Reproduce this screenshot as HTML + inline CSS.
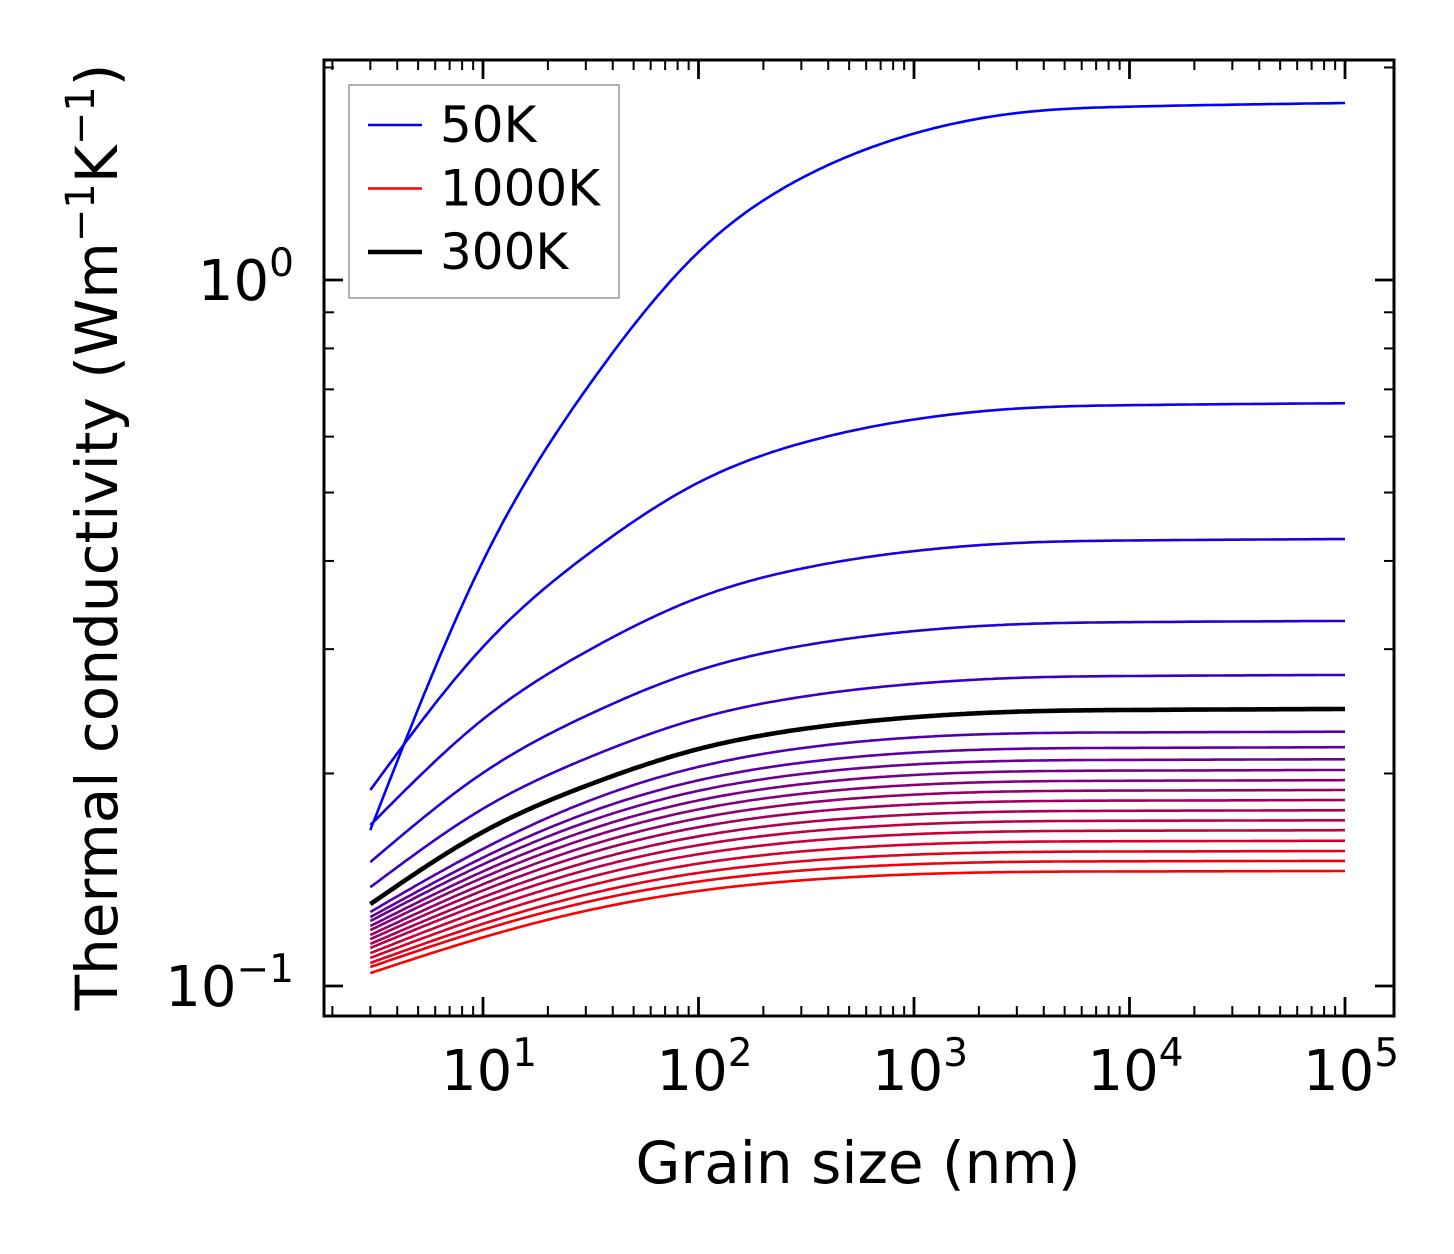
<!DOCTYPE html>
<html><head><meta charset="utf-8"><style>
html,body{margin:0;padding:0;background:#fff;}
svg{display:block;font-family:"DejaVu Sans","Liberation Sans",sans-serif;}
</style></head><body>
<svg id="chart" width="1454" height="1254" viewBox="0 0 1454 1254" xmlns="http://www.w3.org/2000/svg">
<g id="plot"></g>
</svg>
<script>
// Data
const grainSizes = [3, 10, 31.6, 100, 316, 1000, 3162, 10000, 100000];
const temperatures = [50,100,150,200,250,300,350,400,450,500,550,600,650,700,750,800,850,900,950,1000];
// bulk (1e5 nm) conductivity per temperature
const kBulk = [1.781,0.669,0.4296,0.3289,0.2758,0.2468,0.2292,0.2179,0.2095,0.2023,0.1957,0.1895,0.1834,0.1774,0.1717,0.1662,0.1606,0.1553,0.1504,0.1455];
// conductivity at 3 nm grain size per temperature
const kSmall = [0.1663,0.1895,0.169,0.1498,0.138,0.1306,0.1273,0.1252,0.1236,0.1216,0.1200,0.1181,0.1165,0.1147,0.1132,0.1113,0.1096,0.1078,0.1064,0.1043];
// fraction of log-reduction remaining vs grain size (top curves / high-T curves)
const profileLowT = [1,0.63,0.385,0.205,0.1,0.042,0.013,0.005,0];
const profileHighT = [1,0.65,0.38,0.195,0.088,0.032,0.009,0.004,0];
const xTickLabels = ["10","10","10","10","10"];
const xTickExps = [1,2,3,4,5];
const yTickExps = [0,-1];

const NS="http://www.w3.org/2000/svg";
const L=324,R=1394,T=60,B=1016;
const xPerDec=215.5, x10=483;
const yPerDec=706, y1=280;
function X(v){return x10+xPerDec*(Math.log10(v)-1);}
function Y(v){return y1-yPerDec*Math.log10(v);}
const g=document.getElementById('plot');
function el(tag,attrs,parent){const e=document.createElementNS(NS,tag);for(const k in attrs)e.setAttribute(k,attrs[k]);(parent||g).appendChild(e);return e;}

const series=[];
for(let i=0;i<kBulk.length;i++){
  const prof=i<6?profileLowT:profileHighT;
  const lb=Math.log10(kBulk[i]), ls=Math.log10(kSmall[i]);
  series.push(grainSizes.map((s,j)=>Math.pow(10, lb+(ls-lb)*prof[j])));
}
// natural cubic spline in log-log space
function pathFor(vals){
  const xs=grainSizes.map(s=>Math.log10(s)), ys=vals.map(v=>Math.log10(v));
  const n=xs.length, h=[], al=[], l=[1], mu=[0], z=[0], c=new Array(n).fill(0), b=[], d=[];
  for(let i=0;i<n-1;i++)h.push(xs[i+1]-xs[i]);
  for(let i=1;i<n-1;i++)al[i]=3/h[i]*(ys[i+1]-ys[i])-3/h[i-1]*(ys[i]-ys[i-1]);
  for(let i=1;i<n-1;i++){l[i]=2*(xs[i+1]-xs[i-1])-h[i-1]*mu[i-1];mu[i]=h[i]/l[i];z[i]=(al[i]-h[i-1]*z[i-1])/l[i];}
  for(let j=n-2;j>=1;j--){c[j]=z[j]-mu[j]*c[j+1];}
  c[0]=0;c[n-1]=0;
  for(let j=0;j<n-1;j++){b[j]=(ys[j+1]-ys[j])/h[j]-h[j]*(c[j+1]+2*c[j])/3;d[j]=(c[j+1]-c[j])/(3*h[j]);}
  let out="";
  for(let i=0;i<n-1;i++){
    const steps=40;
    for(let s=(i===0?0:1);s<=steps;s++){
      const dx=h[i]*s/steps;
      const y=ys[i]+b[i]*dx+c[i]*dx*dx+d[i]*dx*dx*dx;
      const px=X(Math.pow(10,xs[i]+dx)),py=Y(Math.pow(10,y));
      out+=(out?"L":"M")+px.toFixed(1)+","+py.toFixed(1);
    }
  }
  return out;
}
const n=series.length;
const order=[];for(let i=n-1;i>=0;i--)if(i!==5)order.push(i);order.push(5);
order.forEach(i=>{
  const t=i/(n-1);
  const col=i===5?"#000":"rgb("+Math.round(255*t)+",0,"+Math.round(255*(1-t))+")";
  const e=el('path',{d:pathFor(series[i]),fill:'none',stroke:col,'stroke-width':i===5?4.6:2.6,'stroke-linejoin':'round'});
  
  
});

function tick(x1,y1_,x2,y2,w){return el('line',{x1:x1,y1:y1_,x2:x2,y2:y2,stroke:'#000','stroke-width':w||2.2});}
for(let d=0;d<=5;d++){
  for(let m=1;m<=9;m++){
    const v=m*Math.pow(10,d);const x=X(v);
    if(x<L+1||x>R-1)continue;
    const len=m===1?19:10;
    const t1=tick(x,B,x,B-len,m===1?2.8:2);
    
    const t2=tick(x,T,x,T+len,m===1?2.8:2);
    
  }
}
for(let d=-2;d<=0;d++){
  for(let m=1;m<=9;m++){
    const v=m*Math.pow(10,d);const y=Y(v);
    if(y<T+1||y>B-1)continue;
    const len=m===1?19:10;
    const t1=tick(L,y,L+len,y,m===1?2.8:2);
    
    const t2=tick(R,y,R-len,y,m===1?2.8:2);
    
  }
}
const fr=el('rect',{x:L,y:T,width:R-L,height:B-T,fill:'none',stroke:'#000','stroke-width':3});


xTickExps.forEach((e,i)=>{
  const t=el('text',{x:X(Math.pow(10,e))+6,y:1090,'font-size':56,'text-anchor':'middle'});
  
  
  t.innerHTML=xTickLabels[i]+'<tspan dy="-24" font-size="39">'+e+'</tspan>';
});
yTickExps.forEach(e=>{
  const t=el('text',{x:294,y:Y(Math.pow(10,e))+20,'font-size':56,'text-anchor':'end'});
  
  
  t.innerHTML='10<tspan dy="-24" font-size="39">'+(e<0?'\u2212'+(-e):e)+'</tspan>';
});
const xt=el('text',{x:858,y:1183,'font-size':58,'text-anchor':'middle'});


xt.textContent='Grain size (nm)';
const yt=el('text',{x:0,y:0,'font-size':58,'text-anchor':'middle',transform:'translate(117,537) rotate(-90)'});


yt.innerHTML='Thermal conductivity (Wm<tspan dy="-23" font-size="40">\u22121</tspan><tspan dy="23">K</tspan><tspan dy="-23" font-size="40">\u22121</tspan><tspan dy="23">)</tspan>';

const lg=el('g',{});


el('rect',{x:349,y:85,width:270,height:213,fill:'#fff',stroke:'#999','stroke-width':1.5},lg);
const legLabels=['50K','1000K','300K'];
const legColors=['#0000ff','#ff0000','#000'];
const legW=[2.6,2.6,4.6];
legLabels.forEach((lab,i)=>{
  const y=125+i*63.5;
  const en=el('g',{},lg);
  
  
  el('line',{x1:368,y1:y,x2:422,y2:y,stroke:legColors[i],'stroke-width':legW[i]},en);
  const t=el('text',{x:440,y:y+17,'font-size':50},en);
  t.textContent=lab;
});
</script>
</body></html>
